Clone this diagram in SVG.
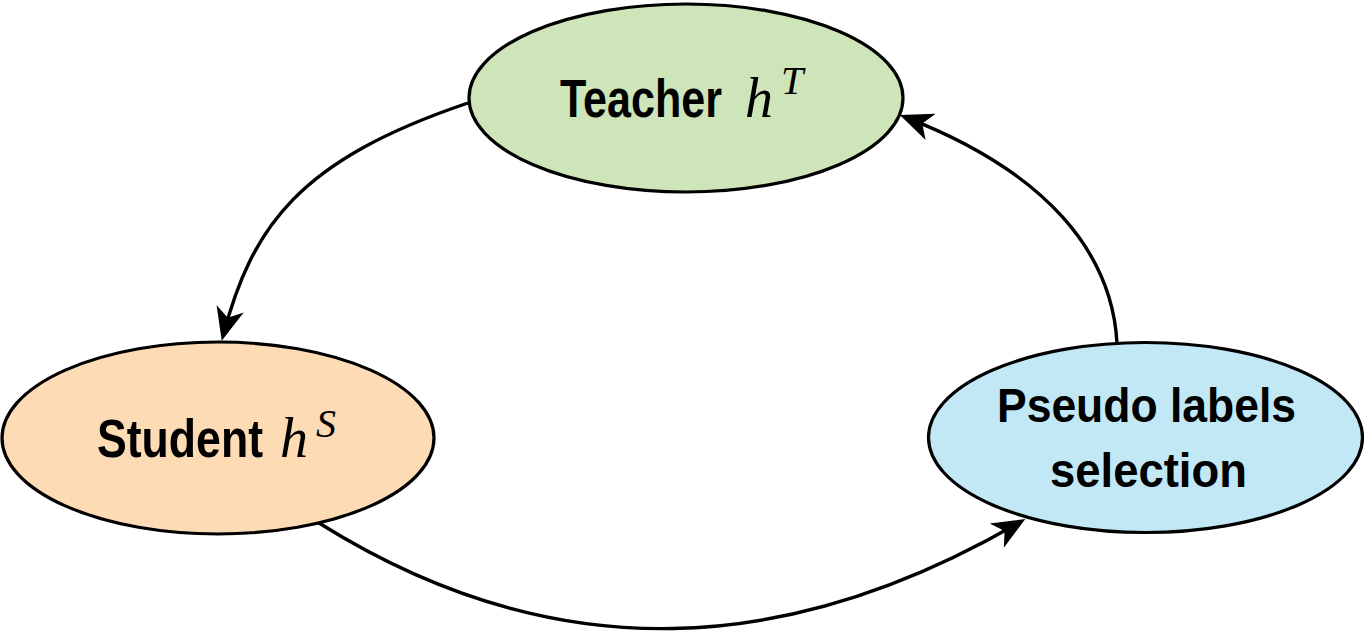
<svg xmlns="http://www.w3.org/2000/svg" width="1365" height="631" viewBox="0 0 1365 631">
  <style>
    .node { stroke: #000; stroke-width: 3.2; }
    .lbl { font-family: "Liberation Sans", Arial, sans-serif; font-weight: bold; fill: #000; }
    .math { font-family: "Liberation Serif", "Times New Roman", serif; font-style: italic; fill: #000; font-size: 56px; }
    .sup { font-size: 40px; }
    .edge { fill: none; stroke: #000; stroke-width: 3.4; }
  </style>
  <defs>
    <marker id="arr" markerUnits="userSpaceOnUse" viewBox="0 0 36 32" markerWidth="36" markerHeight="32" refX="29" refY="16" orient="auto">
      <path d="M34,16 L1,2 L10,16 L1,30 Z" fill="#000"/>
    </marker>
  </defs>
  <rect width="1365" height="631" fill="#fff"/>

  <g id="edges">
    <path class="edge" d="M468,103 C299,160 252,226 223,336" marker-end="url(#arr)"/>
    <path class="edge" d="M319,523 C557,672 790,656 1021,521.5" marker-end="url(#arr)"/>
    <path class="edge" d="M1117,343 C1112,254 1048,172 904.5,116.8" marker-end="url(#arr)"/>
  </g>

  <g id="teacher">
    <ellipse class="node" cx="686" cy="98" rx="217" ry="94" fill="#cde5b8"/>
    <text class="lbl" x="560" y="117" font-size="53" textLength="162" lengthAdjust="spacingAndGlyphs">Teacher</text>
    <text class="math" x="745" y="117">h<tspan class="sup" x="781" y="94">T</tspan></text>
  </g>

  <g id="student">
    <ellipse class="node" cx="218" cy="438" rx="216" ry="96" fill="#fddbb4"/>
    <text class="lbl" x="97" y="457" font-size="54" textLength="166" lengthAdjust="spacingAndGlyphs">Student</text>
    <text class="math" x="280" y="457">h<tspan class="sup" x="316" y="437">S</tspan></text>
  </g>

  <g id="pseudo">
    <ellipse class="node" cx="1145.5" cy="437.5" rx="217" ry="95" fill="#c2e7f5"/>
    <text class="lbl" x="997" y="422" font-size="48" textLength="299" lengthAdjust="spacingAndGlyphs">Pseudo labels</text>
    <text class="lbl" x="1050" y="487" font-size="48" textLength="197" lengthAdjust="spacingAndGlyphs">selection</text>
  </g>
</svg>
